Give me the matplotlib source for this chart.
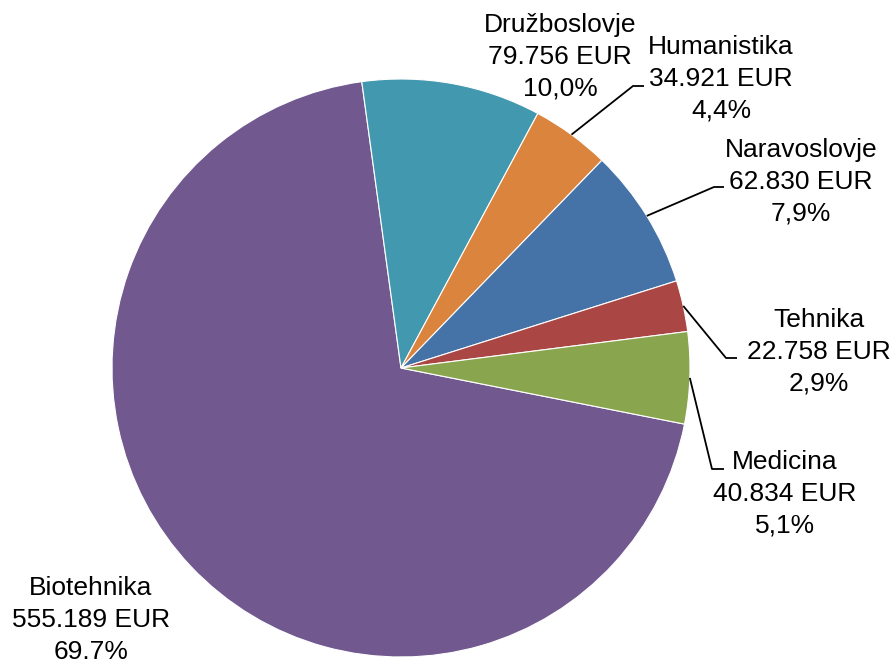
import numpy as np
import matplotlib
matplotlib.use('Agg')
import matplotlib.pyplot as plt

categories = ['Biotehnika', 'Družboslovje', 'Humanistika', 'Naravoslovje', 'Tehnika', 'Medicina']
amounts = [555.189, 79.756, 34.921, 62.830, 22.758, 40.834]
amount_labels = ['555.189 EUR', '79.756 EUR', '34.921 EUR', '62.830 EUR', '22.758 EUR', '40.834 EUR']
pct_labels = ['69.7%', '10,0%', '4,4%', '7,9%', '2,9%', '5,1%']
colors = ['#71588F', '#4198AF', '#DB843D', '#4572A7', '#AA4643', '#89A54E']

W, H = 896, 663
plt.rcParams['font.family'] = ['Liberation Sans', 'DejaVu Sans']

fig = plt.figure(figsize=(W / 100, H / 100), dpi=100)
ax = fig.add_axes([0, 0, 1, 1])

cx, cy, r = 401, H - 368, 289
wedges, _ = ax.pie(amounts, colors=colors, startangle=-11.2, counterclock=False,
                   center=(cx, cy), radius=r,
                   wedgeprops=dict(edgecolor='white', linewidth=0.8))

# label centres and leader elbows (pixel coords, y from top)
label_pos = [(91, 620), (560, 57), (721, 79), (801, 182), (819, 352), (785, 494)]
elbows = [None, None, [(633, 86), (644, 86)], [(714, 187), (724, 187)],
          [(726, 358), (737, 358)], [(712, 469), (724, 469)]]

for i, w in enumerate(wedges):
    txt = f'{categories[i]}\n{amount_labels[i]}\n{pct_labels[i]}'
    x, y = label_pos[i]
    ax.text(x, H - y, txt, ha='center', va='center', fontsize=19,
            linespacing=1.4, color='black')
    if elbows[i] is not None:
        mid = np.deg2rad((w.theta1 + w.theta2) / 2)
        xs = [cx + r * np.cos(mid)] + [p[0] for p in elbows[i]]
        ys = [cy + r * np.sin(mid)] + [H - p[1] for p in elbows[i]]
        ax.plot(xs, ys, color='black', linewidth=1.3, solid_capstyle='butt')

ax.set_xlim(0, W)
ax.set_ylim(0, H)
ax.set_aspect('equal')
ax.axis('off')

fig.savefig('out.png', dpi=100)
